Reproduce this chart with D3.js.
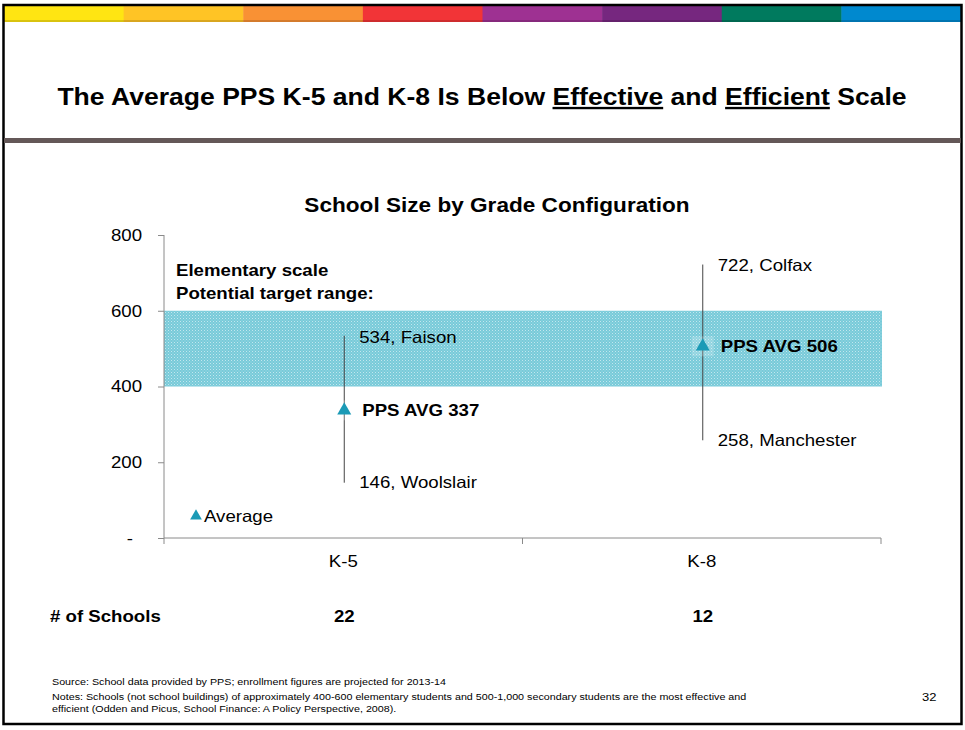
<!DOCTYPE html>
<html><head><meta charset="utf-8">
<script src="https://cdn.jsdelivr.net/npm/d3@7"></script>
<style>body{margin:0;background:#fff}svg{display:block;font-family:"Liberation Sans",Arial,sans-serif}</style>
</head><body><svg id="c" width="965" height="730"></svg>
<script>
const categories = ["K-5", "K-8"];
const avgValues = [337, 506];
const minValues = [146, 258];
const minNames = ["Woolslair", "Manchester"];
const maxValues = [534, 722];
const maxNames = ["Faison", "Colfax"];
const schoolCounts = [22, 12];
const yTicks = [0, 200, 400, 600, 800];
const targetRange = [400, 600];
const stripeColors = ["#FFE512","#FFC425","#F99134","#F23437","#9E3192","#76277F","#007A5E","#0089CF"];

const FS = 16.5;
const svg = d3.select("#c");
svg.append("rect").attr("width",965).attr("height",730).attr("fill","#fff");

// pattern for target band (white dots, transparent background)
const defs = svg.append("defs");
const pat = defs.append("pattern").attr("id","dots").attr("width",3).attr("height",3).attr("patternUnits","userSpaceOnUse");
pat.append("rect").attr("x",0).attr("y",0).attr("width",1).attr("height",1).attr("fill","#fff").attr("opacity",0.55);
pat.append("rect").attr("x",1.5).attr("y",1.5).attr("width",1).attr("height",1).attr("fill","#fff").attr("opacity",0.35);

// colour stripe
const sx = d3.scaleBand().domain(d3.range(stripeColors.length)).range([4,961]);
svg.selectAll("rect.stripe").data(stripeColors).join("rect").attr("class","stripe")
  .attr("x",(d,i)=>sx(i)).attr("y",6).attr("width",sx.bandwidth()+0.5).attr("height",16).attr("fill",d=>d);
svg.append("rect").attr("x",4).attr("y",20).attr("width",957).attr("height",2).attr("fill","#000").attr("opacity",0.15);

// frame
svg.append("rect").attr("x",3.5).attr("y",5).attr("width",958).attr("height",719).attr("fill","none").attr("stroke","#000").attr("stroke-width",2.5);

// main title
const t = svg.append("text").attr("x",482).attr("y",105).attr("text-anchor","middle").attr("font-size",23.5).attr("font-weight","bold").attr("fill","#000");
t.append("tspan").text("The Average PPS K-5 and K-8 Is Below ");
t.append("tspan").attr("text-decoration","underline").text("Effective");
t.append("tspan").text(" and ");
t.append("tspan").attr("text-decoration","underline").text("Efficient");
t.append("tspan").text(" Scale");

svg.append("rect").attr("x",4).attr("y",138).attr("width",957).attr("height",5).attr("fill","#645858");

// chart title
svg.append("text").attr("x",497).attr("y",212).attr("text-anchor","middle").attr("font-size",20).attr("font-weight","bold").text("School Size by Grade Configuration");

// scales
const x = d3.scaleBand().domain(categories).range([164,881]);
const y = d3.scaleLinear().domain([0,800]).range([538,235]);
const axisColor = "#8a8a8a";

// target band
const bandAttrs = sel => sel.attr("x",x.range()[0]).attr("y",y(targetRange[1])).attr("width",x.range()[1]-x.range()[0]+1)
  .attr("height",y(targetRange[0])-y(targetRange[1]));
svg.append("rect").call(bandAttrs).attr("fill","#78cad9");
svg.append("rect").call(bandAttrs).attr("fill","url(#dots)");

// y axis
const yAxis = svg.append("g").attr("transform","translate(164,0)")
  .call(d3.axisLeft(y).tickValues(yTicks).tickSize(6).tickPadding(16).tickFormat(d=>d===0?"-":d3.format("d")(d)));
yAxis.select(".domain").attr("stroke",axisColor).attr("d","M0,"+y(800)+"V"+y(0));
yAxis.selectAll(".tick line").attr("stroke",axisColor);
yAxis.selectAll(".tick text").attr("font-size",FS).attr("fill","#000").attr("font-family","Liberation Sans, Arial, sans-serif")
  .attr("x",d=>d===0?-31:-22);

// x axis
const xAxis = svg.append("g").attr("transform","translate(0,538)")
  .call(d3.axisBottom(x).tickSize(0).tickPadding(17));
xAxis.select(".domain").attr("stroke",axisColor).attr("d","M164,0H881");
xAxis.selectAll(".tick text").attr("font-size",FS).attr("fill","#000").attr("font-family","Liberation Sans, Arial, sans-serif");
const xTickPos = [x.range()[0], x(categories[1]), x.range()[1]];
xAxis.selectAll("line.xt").data(xTickPos).join("line").attr("class","xt")
  .attr("x1",d=>d).attr("x2",d=>d).attr("y1",0).attr("y2",6).attr("stroke",axisColor);

// range lines
const cx = c => x(c) + x.bandwidth()/2 + 1;
svg.selectAll("line.rng").data(categories).join("line").attr("class","rng")
  .attr("x1",cx).attr("x2",cx).attr("y1",(d,i)=>y(maxValues[i])).attr("y2",(d,i)=>y(minValues[i]))
  .attr("stroke","#444").attr("stroke-width",1);

// markers
const tri = d3.symbol().type(d3.symbolTriangle).size(85);
svg.selectAll("rect.glow").data(categories).join("rect").attr("class","glow")
  .attr("x",d=>cx(d)-11).attr("y",(d,i)=>y(avgValues[i])-10).attr("width",22).attr("height",20)
  .attr("fill","#fff").attr("opacity",0.2);
svg.selectAll("path.avg").data(categories).join("path").attr("class","avg")
  .attr("transform",(d,i)=>`translate(${cx(d)},${y(avgValues[i])})`).attr("d",tri).attr("fill","#1b9ab6");

// labels
const lbl = (sel) => sel.attr("font-size",FS).attr("dy","0.35em").attr("fill","#000");
svg.selectAll("text.maxl").data(categories).join("text").attr("class","maxl")
  .attr("x",d=>cx(d)+15).attr("y",(d,i)=>y(maxValues[i])+1).text((d,i)=>`${maxValues[i]}, ${maxNames[i]}`).call(lbl);
svg.selectAll("text.minl").data(categories).join("text").attr("class","minl")
  .attr("x",d=>cx(d)+15).attr("y",(d,i)=>y(minValues[i])).text((d,i)=>`${minValues[i]}, ${minNames[i]}`).call(lbl);
svg.selectAll("text.avgl").data(categories).join("text").attr("class","avgl")
  .attr("x",d=>cx(d)+18).attr("y",(d,i)=>y(avgValues[i])).text((d,i)=>`PPS AVG ${avgValues[i]}`).call(lbl).attr("font-weight","bold");

// band annotation
svg.append("text").attr("x",176).attr("y",276).attr("font-size",FS).attr("font-weight","bold").text("Elementary scale");
svg.append("text").attr("x",176).attr("y",299).attr("font-size",FS).attr("font-weight","bold").text("Potential target range:");

// legend
svg.append("path").attr("transform","translate(196,516)").attr("d",d3.symbol().type(d3.symbolTriangle).size(60)).attr("fill","#1b9ab6");
svg.append("text").attr("x",204).attr("y",516).attr("dy","0.35em").attr("font-size",FS).text("Average");

// school counts
svg.append("text").attr("x",50).attr("y",616).attr("dy","0.35em").attr("font-size",FS).attr("font-weight","bold").text("# of Schools");
svg.selectAll("text.cnt").data(categories).join("text").attr("class","cnt")
  .attr("x",cx).attr("y",616).attr("dy","0.35em").attr("text-anchor","middle").attr("font-size",FS).attr("font-weight","bold")
  .text((d,i)=>schoolCounts[i]);

// footer
const foot = svg.append("g").attr("font-size",9.5).attr("fill","#000");
foot.append("text").attr("x",52).attr("y",685).text("Source: School data provided by PPS; enrollment figures are projected for 2013-14");
foot.append("text").attr("x",52).attr("y",700).text("Notes: Schools (not school buildings) of approximately 400-600 elementary students and 500-1,000 secondary students are the most effective and");
foot.append("text").attr("x",52).attr("y",712).text("efficient (Odden and Picus, School Finance: A Policy Perspective, 2008).");
svg.append("text").attr("x",922).attr("y",701).attr("font-size",11.5).text("32");

// horizontal stretch of the text glyphs around their anchor (reference text is wider than Arial)
svg.selectAll("text").each(function(){
  const ax = +this.getAttribute("x") || 0;
  const k = 1.13;
  this.setAttribute("transform", `translate(${ax},0) scale(${k},1) translate(${-ax},0)`);
});
</script></body></html>
